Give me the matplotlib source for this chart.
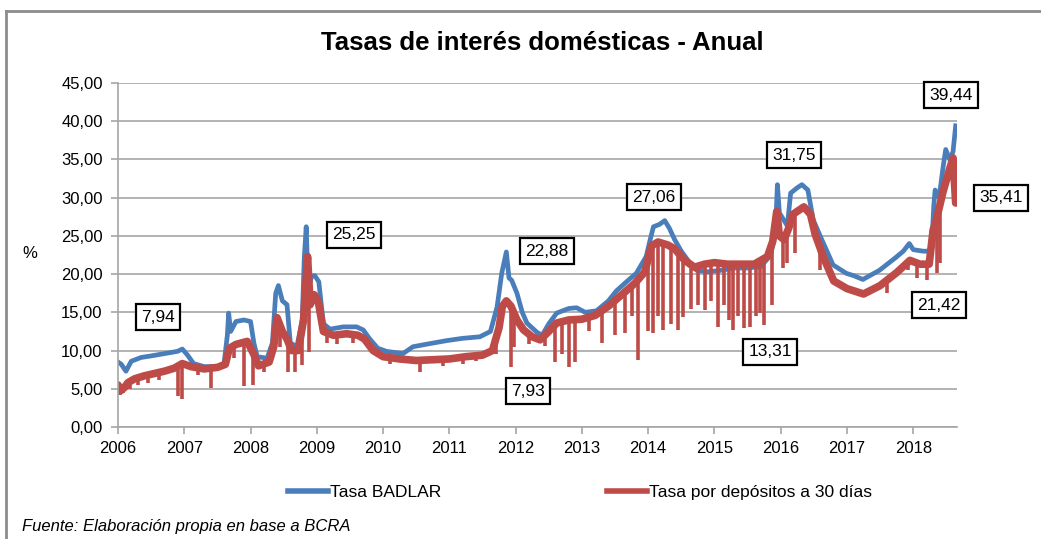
import matplotlib
matplotlib.use("Agg")
import matplotlib.pyplot as plt
from matplotlib.lines import Line2D
import numpy as np

plt.rcParams['font.family'] = ['Liberation Sans Narrow', 'Liberation Sans', 'DejaVu Sans']

# Tasa BADLAR (fecha decimal, %)
badlar_x = [2006.00, 2006.05, 2006.12, 2006.20, 2006.35, 2006.50, 2006.70, 2006.90, 2006.97,
            2007.05, 2007.14, 2007.30, 2007.50, 2007.60, 2007.65, 2007.67, 2007.70, 2007.78,
            2007.90, 2008.00, 2008.05, 2008.10, 2008.25, 2008.33, 2008.38, 2008.42, 2008.48,
            2008.55, 2008.60, 2008.70, 2008.78, 2008.81, 2008.84, 2008.87, 2008.92, 2008.97,
            2009.03, 2009.10, 2009.20, 2009.40, 2009.60, 2009.70, 2009.80, 2009.92, 2010.05,
            2010.30, 2010.45, 2010.70, 2010.96, 2011.20, 2011.46, 2011.62, 2011.72, 2011.79,
            2011.86, 2011.90, 2011.94, 2012.02, 2012.10, 2012.17, 2012.32, 2012.40, 2012.50,
            2012.62, 2012.80, 2012.92, 2013.05, 2013.22, 2013.40, 2013.52, 2013.70, 2013.82,
            2013.97, 2014.03, 2014.08, 2014.17, 2014.25, 2014.32, 2014.40, 2014.50, 2014.60,
            2014.73, 2014.90, 2015.10, 2015.30, 2015.50, 2015.70, 2015.85, 2015.92, 2015.95,
            2015.98, 2016.03, 2016.10, 2016.15, 2016.25, 2016.32, 2016.41, 2016.49, 2016.62,
            2016.79, 2016.99, 2017.10, 2017.24, 2017.49, 2017.74, 2017.85, 2017.94, 2018.00,
            2018.15, 2018.24, 2018.28, 2018.31, 2018.33, 2018.39, 2018.45, 2018.49, 2018.55,
            2018.60, 2018.64]
badlar_y = [8.5, 8.2, 7.3, 8.6, 9.1, 9.3, 9.6, 9.9, 10.2,
            9.4, 8.3, 7.9, 7.9, 8.3, 12.0, 14.9, 12.5, 13.8,
            14.0, 13.8, 11.0, 9.2, 9.0, 11.0, 17.5, 18.5, 16.5,
            16.0, 11.0, 10.5, 14.0, 22.0, 26.2, 18.0, 19.7, 19.8,
            19.0, 13.5, 12.8, 13.1, 13.1, 12.7, 11.5, 10.3, 9.9,
            9.6, 10.5, 10.9, 11.3, 11.6, 11.8, 12.5, 15.7, 20.1,
            22.9, 19.5, 19.2, 17.5, 15.0, 13.6, 12.4, 12.0, 13.5,
            14.9, 15.5, 15.6, 15.0, 15.2, 16.5, 17.8, 19.2, 20.1,
            22.3, 24.5, 26.2, 26.5, 27.0, 26.0, 24.5, 23.0, 21.8,
            20.5, 20.3, 20.5, 20.8, 20.8, 21.0, 22.5, 25.5, 31.7,
            28.0, 27.3, 26.3, 30.6, 31.3, 31.7, 31.0, 27.1, 24.5,
            21.2, 20.1, 19.8, 19.3, 20.5, 22.2, 23.0, 24.0, 23.2,
            23.0, 23.0, 24.0, 29.0, 31.0, 30.0, 34.0, 36.3, 35.0,
            36.0, 39.4]

# Tasa por depósitos a 30 días
plazo_x = [2006.00, 2006.05, 2006.10, 2006.15, 2006.25, 2006.40, 2006.55, 2006.70, 2006.85,
           2006.97, 2007.10, 2007.30, 2007.50, 2007.62, 2007.68, 2007.78, 2007.95, 2008.05,
           2008.12, 2008.28, 2008.35, 2008.40, 2008.48, 2008.55, 2008.62, 2008.72, 2008.80,
           2008.86, 2008.90, 2008.96, 2009.02, 2009.10, 2009.25, 2009.45, 2009.62, 2009.72,
           2009.85, 2010.00, 2010.25, 2010.50, 2010.75, 2011.00, 2011.25, 2011.50, 2011.65,
           2011.75, 2011.80, 2011.86, 2011.93, 2012.02, 2012.12, 2012.25, 2012.37, 2012.50,
           2012.62, 2012.80, 2013.00, 2013.20, 2013.40, 2013.60, 2013.80, 2013.95, 2014.05,
           2014.15, 2014.30, 2014.40, 2014.55, 2014.70, 2014.85, 2015.00, 2015.20, 2015.40,
           2015.60, 2015.80, 2015.88, 2015.94, 2015.98, 2016.05, 2016.12, 2016.18, 2016.35,
           2016.45, 2016.52, 2016.65, 2016.80, 2017.00, 2017.25, 2017.50, 2017.75, 2017.95,
           2018.10, 2018.24, 2018.30, 2018.34, 2018.45, 2018.55, 2018.60, 2018.64]
plazo_y = [5.5, 4.8, 5.2, 5.8, 6.3, 6.7, 7.0, 7.3, 7.7,
           8.3, 7.9, 7.6, 7.8, 8.2, 10.3, 10.8, 11.2, 9.5,
           8.0, 8.5, 10.5, 14.3, 12.5, 11.5, 10.0, 10.0, 14.0,
           22.3, 16.0, 17.3, 16.5, 12.5, 12.0, 12.2, 12.0, 11.5,
           10.0, 9.2, 8.9, 8.7, 8.8, 8.9, 9.2, 9.4, 10.0,
           13.0, 15.8, 16.5, 15.8, 14.0, 12.7, 11.8, 11.4, 12.5,
           13.6, 14.0, 14.1, 14.6, 15.8, 17.3, 18.8, 20.3, 23.7,
           24.2, 23.8, 23.3, 21.8, 20.9, 21.3, 21.5, 21.3, 21.3,
           21.3, 22.3, 24.3, 28.2, 25.0, 24.5, 26.0, 27.8, 28.8,
           27.8, 25.2, 22.1, 19.1, 18.1, 17.4, 18.5, 20.2, 21.8,
           21.3, 21.3, 25.8, 26.8, 30.8, 33.8, 35.2, 29.3]

# caídas puntuales de la tasa a 30 días (fecha, mínimo)
caidas_x = [2006.03, 2006.08, 2006.18, 2006.30, 2006.45, 2006.62, 2006.90, 2006.97, 2007.20,
            2007.40, 2007.75, 2007.90, 2008.03, 2008.20, 2008.45, 2008.57, 2008.67, 2008.78,
            2008.88, 2009.15, 2009.30, 2009.55, 2010.10, 2010.56, 2010.90, 2011.20, 2011.40,
            2011.70, 2011.93, 2011.97, 2012.20, 2012.45, 2012.60, 2012.70, 2012.80, 2012.90,
            2013.10, 2013.30, 2013.50, 2013.65, 2013.75, 2013.85, 2014.00, 2014.08, 2014.15,
            2014.23, 2014.35, 2014.45, 2014.53, 2014.65, 2014.75, 2014.85, 2014.95, 2015.06,
            2015.15, 2015.22, 2015.28, 2015.35, 2015.45, 2015.54, 2015.62, 2015.69, 2015.75,
            2015.87, 2016.04, 2016.09, 2016.22, 2016.60, 2017.60, 2017.92, 2018.05, 2018.20,
            2018.36, 2018.40]
caidas_y = [4.2, 4.5, 5.0, 5.5, 5.8, 6.2, 4.0, 3.6, 6.8,
            5.1, 9.0, 5.3, 5.5, 7.2, 10.5, 7.2, 7.2, 8.1,
            9.8, 11.0, 10.8, 11.0, 8.2, 7.2, 8.0, 8.2, 8.6,
            9.5, 7.9, 10.5, 10.8, 10.6, 8.5, 9.5, 7.9, 8.5,
            12.5, 11.0, 12.0, 12.3, 14.5, 8.8, 12.5, 12.3, 14.5,
            12.7, 13.5, 12.7, 14.4, 15.5, 16.0, 15.3, 16.5, 13.1,
            16.0, 14.0, 12.7, 14.5, 13.0, 13.1, 14.5, 14.9, 13.3,
            16.0, 20.8, 21.5, 22.8, 20.5, 17.5, 20.5, 19.5, 19.2,
            20.1, 21.4]

anios = list(range(2006, 2019))
yticks = [0, 5, 10, 15, 20, 25, 30, 35, 40, 45]

# etiquetas: texto, posición en píxeles de la figura
etiquetas = [("7,94", 158, 317), ("25,25", 354, 235), ("22,88", 547, 251), ("7,93", 528, 391),
             ("27,06", 654, 197), ("31,75", 794, 155), ("13,31", 770, 352), ("21,42", 939, 305),
             ("35,41", 1001, 198), ("39,44", 951, 95)]

W, H = 1041, 539
fig = plt.figure(figsize=(W / 100, H / 100), dpi=100)
ax = fig.add_axes([118 / W, 1 - 427 / H, (957 - 118) / W, (427 - 83) / H])

azul = '#4a7ebb'
rojo = '#be4b48'

ax.plot(badlar_x, badlar_y, color=azul, lw=3.4, solid_joinstyle='round')
base = np.interp(caidas_x, plazo_x, plazo_y)
ax.vlines(caidas_x, caidas_y, base, color=rojo, lw=2.6)
ax.plot(plazo_x, plazo_y, color=rojo, lw=5.5, solid_joinstyle='round', solid_capstyle='round')

ax.set_xlim(2006, 2018.66)
ax.set_ylim(0, 45)
ax.set_xticks(anios)
ax.set_xticklabels([str(a) for a in anios])
ax.set_yticks(yticks)
ax.set_yticklabels([f"{v:.2f}".replace('.', ',') for v in yticks])
ax.yaxis.grid(True, color='#a6a6a6', lw=1.2)
ax.set_axisbelow(True)
for s in ['top', 'right']:
    ax.spines[s].set_visible(False)
for s in ['left', 'bottom']:
    ax.spines[s].set_color('#a6a6a6')
    ax.spines[s].set_linewidth(1.2)
ax.tick_params(axis='both', colors='#a6a6a6', labelcolor='black', labelsize=12, length=5, width=1.2)
ax.tick_params(axis='x', pad=5)
ax.tick_params(axis='y', pad=6)

fig.text(542 / W, 1 - 43 / H, "Tasas de interés domésticas - Anual", ha='center', va='center',
         fontsize=18.5, fontweight='bold')
fig.text(30 / W, 1 - 253 / H, "%", ha='center', va='center', fontsize=12)

for txt, px, py in etiquetas:
    fig.text(px / W, 1 - py / H, txt, ha='center', va='center', fontsize=12.5,
             bbox=dict(boxstyle='square,pad=0.3', fc='white', ec='black', lw=1.6))

handles = [Line2D([], [], color=azul, lw=4), Line2D([], [], color=rojo, lw=4)]
fig.legend(handles, ["Tasa BADLAR", "Tasa por depósitos a 30 días"], loc='center',
           bbox_to_anchor=(580 / W, 1 - 492 / H), ncol=2, frameon=False, fontsize=12.5,
           handlelength=2.3, handletextpad=0.15, columnspacing=9.5)

fig.text(22 / W, 1 - 526 / H, "Fuente: Elaboración propia en base a BCRA", ha='left', va='center',
         fontsize=12, style='italic')

# marco gris de la figura
fig.add_artist(Line2D([6 / W, 1], [1 - 11 / H, 1 - 11 / H], color='#8c8c8c', lw=2))
fig.add_artist(Line2D([6 / W, 6 / W], [0, 1 - 11 / H], color='#8c8c8c', lw=2))

fig.savefig("out.png", dpi=100)
